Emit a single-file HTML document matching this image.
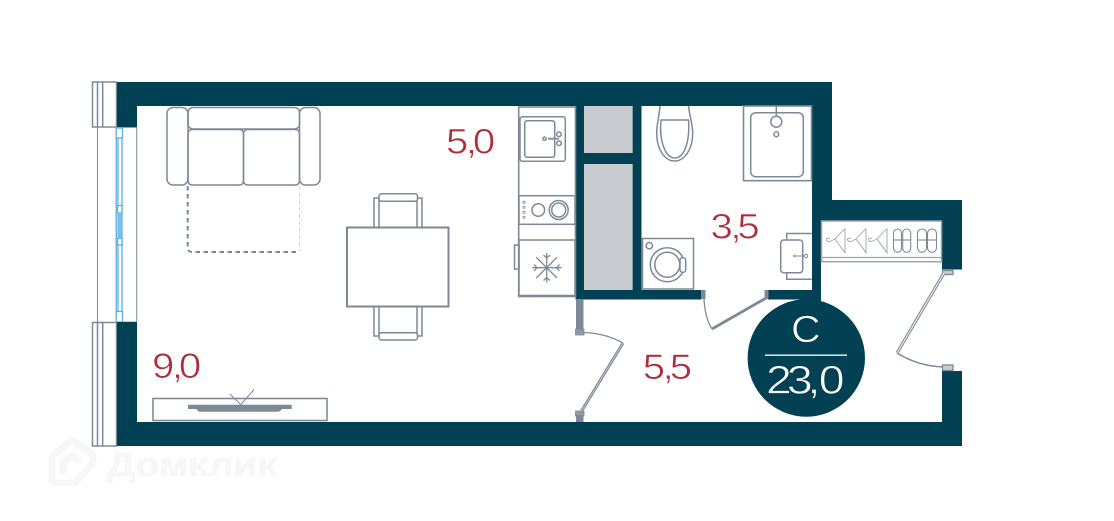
<!DOCTYPE html>
<html><head><meta charset="utf-8"><style>
html,body{margin:0;padding:0;background:#fff}
svg{display:block}
text{font-family:"Liberation Sans",sans-serif}
.g{fill:none;stroke:#7d8a96;stroke-width:1.5}
.t{fill:#b22d3a;font-size:35.5px;stroke:#fff;stroke-width:.6px}
.w{fill:#fff;stroke:#024154;stroke-width:.7px}
</style></head><body>
<svg width="1114" height="521" viewBox="0 0 1114 521" xmlns="http://www.w3.org/2000/svg">
<!-- watermark -->
<g fill="none" stroke="#f7f7f7" stroke-width="7" stroke-linejoin="round">
<path d="M52 484V456L72 440L93 455V463L75 483H52"/>
<path d="M63 474V463L72 456L80 462"/>
</g>
<text x="107" y="476" font-size="33" font-weight="bold" fill="#f7f7f7" stroke="#f7f7f7" stroke-width=".8" textLength="170" lengthAdjust="spacingAndGlyphs">Домклик</text>

<!-- window -->
<rect x="92.5" y="82" width="44" height="364" fill="#fff"/>
<g class="g" stroke-width="1.2">
<rect x="92.5" y="82" width="24" height="45"/><path d="M97.5 82V127M102.7 82V127"/>
<rect x="92.5" y="322.5" width="24" height="123.5"/><path d="M97.5 322V446M102.7 322V446"/>
<path d="M97.5 127V322M136.7 127V322" stroke-width="1"/>
</g>
<g fill="none" stroke="#5aaee3" stroke-width="1.3">
<path d="M116.2 127.5H137M116.2 322H137" stroke-width="1"/>
<rect x="116.2" y="128" width="6.3" height="10"/>
<rect x="116.2" y="311.5" width="6.3" height="10.5"/>
<path d="M116.2 138V311M122 138V311M118 138V311"/>
<rect x="117.5" y="205.5" width="4.5" height="7.5" fill="#fff"/>
<rect x="117.5" y="238.5" width="4.5" height="6.5" fill="#fff"/>
<rect x="117.5" y="213" width="4.5" height="25.5" fill="#80bde6" stroke="none"/>
</g>

<!-- shaft fills -->
<rect x="584" y="106" width="48" height="47" fill="#c8cbd0"/>
<rect x="584" y="164" width="48" height="126" fill="#c8cbd0"/>

<!-- walls -->
<g fill="#024154">
<rect x="117" y="82" width="715" height="24"/>
<rect x="117" y="82" width="20" height="45"/>
<rect x="117" y="322" width="20" height="124"/>
<rect x="117" y="422" width="845" height="24"/>
<rect x="812" y="82" width="20" height="118"/>
<rect x="812" y="200" width="9" height="102"/>
<rect x="812" y="200" width="150" height="20.5"/>
<rect x="942" y="200" width="20" height="69.5"/>
<rect x="942" y="371" width="20" height="75"/>
<rect x="575.5" y="106" width="8.5" height="193"/>
<rect x="632.5" y="106" width="9" height="193"/>
<rect x="584" y="153" width="49" height="11"/>
<rect x="575.5" y="290" width="126" height="9.5"/>
<rect x="768" y="290" width="50" height="9.5"/>
<circle cx="806.3" cy="358" r="58.7"/>
</g>

<!-- sofa -->
<g class="g" stroke-width="1.6">
<rect x="167" y="107.5" width="21" height="77.5" rx="6"/>
<rect x="299.5" y="107.5" width="20.5" height="77.5" rx="6"/>
<rect x="188" y="107.5" width="111.5" height="21.5" rx="5"/>
<rect x="188" y="129.5" width="55.5" height="55.5" rx="4"/>
<rect x="243.5" y="129.5" width="56" height="55.5" rx="4"/>
<path d="M187.7 186V247Q187.7 252 192 252H298" stroke-dasharray="4.5 3.5" stroke-width="2"/>
<path d="M299.5 186V252" stroke="#d5d8dc" stroke-dasharray="4 3" stroke-width="1"/>
</g>

<!-- table -->
<g class="g" stroke-width="1.5">
<path d="M379 228V198H374V228M417 228V198H422V228"/>
<rect x="379" y="193.8" width="38.5" height="7.5" rx="2.5" fill="#fff"/>
<path d="M379 307V336H374V307M417 307V336H422V307"/>
<rect x="379" y="332.7" width="38.5" height="7.3" rx="2.5" fill="#fff"/>
<rect x="347" y="227.5" width="101.5" height="79" stroke-width="2" fill="#fff"/>
</g>

<!-- tv -->
<rect x="153" y="398.5" width="174" height="22" fill="#fff" stroke="#7d8a96" stroke-width="1.6"/>
<path d="M188 404.7H291.7V409H282.3L279 411.7H199L196 409H188Z" fill="#7d8a96"/>
<path d="M230 394L240.7 404.7L254 389.5" fill="none" stroke="#7d8a96" stroke-width="1"/>

<!-- kitchen -->
<g class="g">
<rect x="518.7" y="107" width="56.8" height="189.5" stroke-width="1.6"/>
<rect x="520" y="116.7" width="45.3" height="44.6" rx="2.5"/>
<rect x="524.7" y="120.7" width="30" height="36.6" rx="2.5"/>
<circle cx="544.5" cy="138.7" r="1.6"/>
<circle cx="559" cy="134.3" r="2.3"/>
<circle cx="559" cy="143.3" r="2.3"/>
<path d="M548 138.7H559" stroke-width="1.8"/>
<rect x="519" y="195.7" width="56" height="28.6"/>
<circle cx="538.3" cy="210" r="6.3"/>
<circle cx="558.7" cy="210" r="9.5"/>
<circle cx="558.7" cy="210" r="7"/>
<g stroke-width=".8"><circle cx="524" cy="202.3" r="1.1"/><circle cx="524" cy="207.3" r="1.1"/><circle cx="524" cy="212.3" r="1.1"/><circle cx="524" cy="217.3" r="1.1"/></g>
<rect x="519" y="240" width="56" height="55.5"/>
<rect x="514.5" y="245" width="4.5" height="24"/>
<path d="M546.7 253V282.5M532 267.7H561.5M536.3 257.3L557 278M557 257.3L536.3 278M543.5 255L546.7 258L550 255M543.5 280.5L546.7 277.5L550 280.5M534 264.5L537 267.7L534 271M559.5 264.5L556.5 267.7L559.5 271" stroke-width="1.3"/>
</g>

<!-- toilet -->
<g class="g" stroke-width="1.3">
<path d="M660 106C659 118 656.7 124 656.7 133C656.7 150 665 161 674.7 161C684 161 692.7 150 692.7 133C692.7 124 690 118 688.5 106"/>
<path d="M661 120H688.5C690 140 685 158 674.7 158C665 158 659 140 661 120Z"/>
</g>

<!-- shower -->
<g class="g">
<rect x="743.5" y="106" width="68" height="74.7" stroke-width="1.6"/>
<rect x="750.7" y="112.7" width="52.6" height="64" rx="5"/>
<path d="M776.3 106V116"/>
<circle cx="776.3" cy="121.7" r="5.5"/>
<circle cx="776.3" cy="134.3" r="2.4"/>
</g>

<!-- bathroom sink -->
<g class="g">
<path d="M786.7 240V233.5H811.7M811.7 279.3H786.7V272.7"/>
<rect x="780.7" y="240" width="22" height="32.7" rx="3" fill="#fff"/>
<circle cx="806" cy="256" r="1.7" stroke-width="1"/>
<circle cx="794.5" cy="256" r="1" stroke-width=".8"/>
<path d="M796 256H804.5" stroke-width="1"/>
</g>

<!-- washer -->
<g class="g">
<rect x="642.5" y="238.5" width="51" height="50.5"/>
<circle cx="649.3" cy="245.7" r="3.2"/>
<circle cx="667.3" cy="264.7" r="17"/>
<circle cx="667.3" cy="264.7" r="12.5"/>
<rect x="680" y="257.7" width="5.7" height="14.5" rx="2.5" fill="#fff"/>
</g>

<!-- wardrobe -->
<rect x="821.5" y="221" width="120" height="40.7" fill="#fff" stroke="#9aa4ae" stroke-width="1.5"/>
<g fill="none" stroke="#9aa4ae" stroke-width=".9">
<path d="M821.5 257.5H941.5" stroke-width="1.3"/>
<path d="M845 228.5V252.7L835 239L845 228.5M835 239C831 241 828 243 826.5 240C826 238 829 237.5 830 239"/>
<path d="M866 228.5V252.7L856 239L866 228.5M856 239C852 241 849 243 847.5 240C847 238 850 237.5 851 239"/>
<path d="M887 228.5V252.7L877 239L887 228.5M877 239C873 241 870 243 868.5 240C868 238 871 237.5 872 239"/>
</g>
<g fill="none" stroke="#7d8a96" stroke-width="1.1">
<rect x="893.5" y="229" width="8" height="23.3" rx="4"/><path d="M893.5 240H901.5"/>
<rect x="902.7" y="229" width="8" height="23.3" rx="4"/><path d="M902.7 240H910.7"/>
<rect x="917.5" y="229" width="9" height="23.3" rx="4.5"/><path d="M917.5 240H926.5"/>
<rect x="927.5" y="229" width="9" height="23.3" rx="4.5"/><path d="M927.5 240H936.5"/>
</g>

<!-- doors -->
<g fill="none" stroke="#7d8a96">
<rect x="576" y="299" width="7.5" height="31" fill="#7d8a96" stroke="none"/>
<rect x="575.5" y="329" width="8.5" height="6" fill="#8f9aa5" stroke-width=".8"/>
<rect x="575.5" y="411" width="8.5" height="5" fill="#8f9aa5" stroke-width=".8"/>
<rect x="576" y="415" width="7.5" height="7" fill="#7d8a96" stroke="none"/>
<path d="M581 412L623 343" stroke-width="3"/>
<path d="M583 332.5Q605 333 623 343" stroke-width="1.3"/>
<rect x="701" y="290" width="4.5" height="9" fill="#7d8a96" stroke="none"/>
<rect x="764.5" y="290" width="4" height="9" fill="#7d8a96" stroke="none"/>
<path d="M704 299Q705 318 712 329" stroke-width="1.3"/>
<path d="M712 329L767 297.5" stroke-width="2.8"/>
<path d="M944 273L897 353" stroke-width="3.2"/>
<path d="M897 353Q918 366 943 367" stroke-width="1.5"/>
<rect x="942.5" y="270.5" width="10.500" height="4" fill="#c8cdd2" stroke-width="1.3"/>
<rect x="942.5" y="365" width="10.500" height="5.5" fill="#c8cdd2" stroke-width="1.3"/>
</g>
<path d="M944 273L897 353" stroke="#fff" stroke-width=".9" fill="none"/>
<path d="M581 412L623 343" stroke="#d5d9dd" stroke-width=".7" fill="none"/>

<!-- labels -->
<text transform="translate(446,153.5) scale(1.13,1)" x="0 17.6 23.8" class="t">5,0</text>
<text transform="translate(710.5,238.5) scale(1.13,1)" x="0 17.6 23.8" class="t">3,5</text>
<text transform="translate(152,378) scale(1.13,1)" x="0 17.6 23.8" class="t">9,0</text>
<text transform="translate(642.8,379) scale(1.13,1)" x="0 17.6 23.8" class="t">5,5</text>
<text transform="translate(791,342) scale(1.08,1)" class="w" font-size="38">C</text>
<rect x="765" y="354.5" width="82" height="1.3" fill="#fff"/>
<text transform="translate(766,393.5) scale(1.16,1)" x="0 18 35.8 45.5" class="w" font-size="40">23,0</text>
</svg>
</body></html>
